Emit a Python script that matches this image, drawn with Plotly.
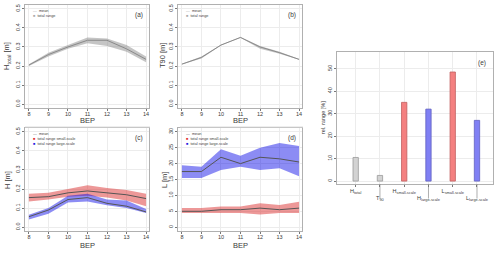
import plotly.graph_objects as go

BEP = [8, 9, 10, 11, 12, 13, 14]

# (a) H_total
htot_mean = [0.205, 0.26, 0.30, 0.335, 0.335, 0.29, 0.235]
htot_lo = [0.200, 0.250, 0.290, 0.320, 0.305, 0.275, 0.220]
htot_hi = [0.210, 0.270, 0.310, 0.350, 0.345, 0.310, 0.250]

# (b) T90
t90_mean = [0.21, 0.245, 0.31, 0.35, 0.30, 0.27, 0.235]
t90_lo = [0.208, 0.240, 0.308, 0.348, 0.290, 0.265, 0.233]
t90_hi = [0.212, 0.250, 0.312, 0.352, 0.305, 0.275, 0.237]

# (c) H small / large scale
hs_mean = [0.155, 0.160, 0.180, 0.190, 0.180, 0.170, 0.150]
hs_lo = [0.135, 0.145, 0.160, 0.165, 0.155, 0.140, 0.110]
hs_hi = [0.175, 0.180, 0.200, 0.220, 0.205, 0.195, 0.175]
hl_mean = [0.055, 0.090, 0.145, 0.155, 0.125, 0.110, 0.080]
hl_lo = [0.040, 0.070, 0.130, 0.135, 0.115, 0.100, 0.075]
hl_hi = [0.065, 0.100, 0.165, 0.175, 0.145, 0.140, 0.095]

# (d) L small / large scale
ls_mean = [5.0, 5.0, 5.5, 5.5, 6.0, 5.5, 6.0]
ls_lo = [4.5, 4.5, 4.5, 4.5, 4.0, 4.5, 4.5]
ls_hi = [6.0, 6.0, 6.5, 6.5, 7.5, 7.0, 8.0]
ll_mean = [17.5, 17.5, 22.0, 20.0, 22.0, 21.5, 20.5]
ll_lo = [15.5, 15.5, 18.0, 19.0, 18.0, 18.5, 16.0]
ll_hi = [19.5, 19.0, 24.5, 22.5, 25.0, 26.5, 25.5]

# (e) relative range
rel_cats = ["Htotal", "T90", "Hsmall", "Hlarge", "Lsmall", "Llarge"]
rel_vals = [10.5, 2.5, 35.0, 32.0, 48.5, 27.0]
rel_ticktext = ["H<sub>total</sub>", "<br>T<sub>90</sub>", "H<sub>small-scale</sub>",
                "<br>H<sub>large-scale</sub>", "L<sub>small-scale</sub>", "<br>L<sub>large-scale</sub>"]

FONT = "Liberation Sans"
TXT = "#3a3a3a"
GREY_FILL = "rgba(140,140,140,0.5)"
GREY_LINE = "#8a8a8a"
RED_FILL = "rgba(220,50,50,0.5)"
BLUE_FILL = "rgba(0,0,230,0.45)"
MEAN_DARK = "#555555"

fig = go.Figure()


def ribbon(xa, ya, lo, hi, fill):
    fig.add_trace(go.Scatter(x=BEP, y=lo, mode="lines", line=dict(width=0, color=fill),
                             xaxis=xa, yaxis=ya, showlegend=False, hoverinfo="skip"))
    fig.add_trace(go.Scatter(x=BEP, y=hi, mode="lines", line=dict(width=0, color=fill),
                             fill="tonexty", fillcolor=fill,
                             xaxis=xa, yaxis=ya, showlegend=False, hoverinfo="skip"))


def meanline(xa, ya, y, color):
    fig.add_trace(go.Scatter(x=BEP, y=y, mode="lines", line=dict(width=1, color=color),
                             xaxis=xa, yaxis=ya, showlegend=False))


ribbon("x", "y", htot_lo, htot_hi, GREY_FILL)
meanline("x", "y", htot_mean, GREY_LINE)
ribbon("x2", "y2", t90_lo, t90_hi, GREY_FILL)
meanline("x2", "y2", t90_mean, GREY_LINE)
ribbon("x3", "y3", hs_lo, hs_hi, RED_FILL)
ribbon("x3", "y3", hl_lo, hl_hi, BLUE_FILL)
meanline("x3", "y3", hs_mean, MEAN_DARK)
meanline("x3", "y3", hl_mean, MEAN_DARK)
ribbon("x4", "y4", ls_lo, ls_hi, RED_FILL)
ribbon("x4", "y4", ll_lo, ll_hi, BLUE_FILL)
meanline("x4", "y4", ls_mean, MEAN_DARK)
meanline("x4", "y4", ll_mean, MEAN_DARK)

bar_fill = ["#d3d3d3", "#d3d3d3", "#f48080", "#8080f4", "#f48080", "#8080f4"]
bar_line = ["#9a9a9a", "#9a9a9a", "#c06060", "#6060c0", "#c06060", "#6060c0"]
fig.add_trace(go.Bar(x=rel_cats, y=rel_vals, width=0.22, marker=dict(color=bar_fill,
                     line=dict(color=bar_line, width=0.8)), xaxis="x5", yaxis="y5", showlegend=False))

W, H = 500, 253


def px_x(p):
    return p / W


def px_y(p):
    return 1 - p / H


dom = {
    1: ([px_x(25), px_x(149)], [px_y(108), px_y(5)]),
    2: ([px_x(178), px_x(302)], [px_y(108), px_y(5)]),
    3: ([px_x(25), px_x(149)], [px_y(231), px_y(128)]),
    4: ([px_x(178), px_x(302)], [px_y(231), px_y(128)]),
    5: ([px_x(337), px_x(493)], [px_y(184), px_y(52)]),
}

tickfont = dict(family=FONT, size=5.5, color=TXT)
axcommon = dict(showline=True, linecolor="#b0b0b0", linewidth=1, mirror=True,
                showgrid=True, gridcolor="#ececec", gridwidth=0.6, zeroline=False,
                ticks="outside", ticklen=2, tickcolor="#777", tickwidth=0.6,
                tickfont=tickfont, automargin=False)

layout = {}
for i in range(1, 6):
    sx = "" if i == 1 else str(i)
    xd, yd = dom[i]
    if i < 5:
        layout["xaxis" + sx] = dict(domain=xd, anchor="y" + sx, range=[7.8, 14.15],
                                    tickmode="array", tickvals=BEP, tickangle=0,
                                    ticklabelstandoff=-2, **axcommon)
        if i == 4:
            yr, yt, tf = [-1.2, 31.2], [0, 5, 10, 15, 20, 25, 30], "d"
        else:
            yr, yt, tf = [-0.02, 0.52], [0, 0.1, 0.2, 0.3, 0.4, 0.5], ".1f"
        layout["yaxis" + sx] = dict(domain=yd, anchor="x" + sx, range=yr, tickmode="array", tickvals=yt,
                                    tickangle=-90, tickformat=tf, **axcommon)
    else:
        layout["xaxis5"] = dict(domain=xd, anchor="y5", range=[-0.77, 5.66], type="category",
                                tickmode="array", tickvals=rel_cats, ticktext=rel_ticktext,
                                tickangle=0, ticklabelstandoff=-1, **axcommon)
        layout["yaxis5"] = dict(domain=yd, anchor="x5", range=[-1.3, 57.4], tickmode="array",
                                tickvals=[0, 10, 20, 30, 40, 50], tickangle=-90, **axcommon)

ann = []
labels = ["(a)", "(b)", "(c)", "(d)", "(e)"]
for i, lab in enumerate(labels, start=1):
    sx = "" if i == 1 else str(i)
    ann.append(dict(text=lab, x=0.97, y=0.96, xref="x%s domain" % sx, yref="y%s domain" % sx,
                    xanchor="right", yanchor="top", showarrow=False,
                    font=dict(family=FONT, size=6.5, color=TXT)))

# axis titles
tfont = dict(family=FONT, size=7.5, color=TXT)
for xc, yc in ((87, 120.5), (240, 120.5), (87, 245.5), (240, 245.5)):
    ann.append(dict(text="BEP", x=px_x(xc), y=px_y(yc), xref="paper", yref="paper",
                    xanchor="center", yanchor="middle", showarrow=False, font=tfont))
for txt, xc, yc in (("H<sub>total</sub> [m]", 7, 56), ("T90 [m]", 162, 56),
                    ("H [m]", 7, 180), ("L [m]", 164, 180)):
    ann.append(dict(text=txt, x=px_x(xc), y=px_y(yc), xref="paper", yref="paper", textangle=-90,
                    xanchor="center", yanchor="middle", showarrow=False, font=tfont))
ann.append(dict(text="rel. range [%]", x=px_x(323), y=px_y(118), xref="paper", yref="paper", textangle=-90,
                xanchor="center", yanchor="middle", showarrow=False, font=dict(family=FONT, size=5.5, color=TXT)))

legfont = dict(family=FONT, size=3.8, color="#444")
for i in (1, 2):
    sx = "" if i == 1 else str(i)
    ann.append(dict(text='<span style="color:#999">\u2014</span>  mean<br><span style="color:#aaa">\u25A0</span>  total range',
                    x=0.05, y=0.98, xref="x%s domain" % sx, yref="y%s domain" % sx, align="left",
                    xanchor="left", yanchor="top", showarrow=False, font=legfont))
for i in (3, 4):
    sx = str(i)
    ann.append(dict(text='<span style="color:#555">\u2014</span>  mean<br><span style="color:#e03030">\u25A0</span>  total range small-scale'
                         '<br><span style="color:#2020e0">\u25A0</span>  total range large-scale',
                    x=0.05, y=0.98, xref="x%s domain" % sx, yref="y%s domain" % sx, align="left",
                    xanchor="left", yanchor="top", showarrow=False, font=legfont))

shapes = []
for c in ["T90", "Hlarge", "Llarge"]:
    shapes.append(dict(type="line", xref="x5", yref="y5 domain", x0=c, x1=c, y0=0, y1=-0.11,
                       line=dict(color="#777", width=0.6)))
shapes.append(dict(type="line", xref="paper", yref="paper", x0=px_x(25), x1=px_x(150),
                   y0=px_y(127), y1=px_y(127), line=dict(color="#dddddd", width=1)))
shapes.append(dict(type="line", xref="paper", yref="paper", x0=px_x(180), x1=px_x(303),
                   y0=px_y(127), y1=px_y(127), line=dict(color="#dddddd", width=1)))

fig.update_layout(width=W, height=H, margin=dict(l=0, r=0, t=0, b=0),
                  paper_bgcolor="white", plot_bgcolor="white", showlegend=False,
                  font=dict(family=FONT, color=TXT), annotations=ann, shapes=shapes, **layout)

fig.write_html("out.html", config={"displayModeBar": False},
               post_script="document.body.style.margin='0';document.body.style.padding='0';"
                           "document.body.style.overflow='hidden';")
